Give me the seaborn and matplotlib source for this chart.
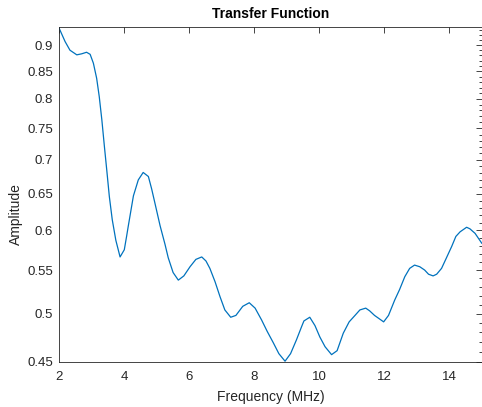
import matplotlib
matplotlib.use("Agg")
import matplotlib.pyplot as plt
from matplotlib.ticker import FixedLocator, MultipleLocator, NullFormatter
import numpy as np
import pandas as pd
import seaborn as sns

# values
freq_mhz = [2.00, 2.19, 2.34, 2.55, 2.70, 2.85, 2.96, 3.06, 3.16, 3.24,
            3.32, 3.40, 3.47, 3.55, 3.64, 3.75, 3.88, 4.01, 4.08, 4.13,
            4.29, 4.44, 4.59, 4.75, 4.85, 4.95, 5.11, 5.26, 5.36, 5.51,
            5.67, 5.84, 6.03, 6.21, 6.39, 6.52, 6.64, 6.80, 6.95, 7.10,
            7.28, 7.44, 7.65, 7.85, 8.03, 8.23, 8.40, 8.59, 8.76, 8.95,
            9.12, 9.30, 9.46, 9.53, 9.71, 9.87, 10.02, 10.18, 10.38, 10.55,
            10.74, 10.92, 11.10, 11.25, 11.43, 11.55, 11.70, 11.86, 11.98, 12.13,
            12.32, 12.47, 12.63, 12.78, 12.93, 13.09, 13.24, 13.36, 13.50, 13.61,
            13.76, 13.90, 14.07, 14.20, 14.33, 14.53, 14.63, 14.79, 15.00]
amplitude = [0.935, 0.907, 0.890, 0.881, 0.883, 0.886, 0.882, 0.865, 0.837, 0.804,
             0.764, 0.720, 0.685, 0.646, 0.614, 0.587, 0.566, 0.575, 0.592, 0.605,
             0.647, 0.670, 0.681, 0.675, 0.657, 0.637, 0.606, 0.582, 0.565, 0.547,
             0.538, 0.543, 0.554, 0.563, 0.566, 0.561, 0.552, 0.536, 0.519, 0.504,
             0.496, 0.498, 0.508, 0.512, 0.506, 0.493, 0.481, 0.469, 0.458, 0.4505,
             0.458, 0.472, 0.486, 0.492, 0.496, 0.487, 0.475, 0.465, 0.457, 0.461,
             0.479, 0.491, 0.498, 0.504, 0.506, 0.503, 0.498, 0.494, 0.491, 0.498,
             0.515, 0.527, 0.542, 0.552, 0.556, 0.554, 0.550, 0.545, 0.543, 0.545,
             0.552, 0.564, 0.579, 0.592, 0.598, 0.604, 0.602, 0.596, 0.583]

x_ticks = [2, 4, 6, 8, 10, 12, 14]
y_ticks = [0.45, 0.5, 0.55, 0.6, 0.65, 0.7, 0.75, 0.8, 0.85, 0.9]
y_tick_labels = ["0.45", "0.5", "0.55", "0.6", "0.65", "0.7", "0.75", "0.8", "0.85", "0.9"]

sns.set_style("white")
plt.rcParams['font.family'] = ['Liberation Sans', 'DejaVu Sans']

axis_col = '#262626'
df = pd.DataFrame({"Frequency": freq_mhz, "Amplitude": amplitude})

fig = plt.figure(figsize=(4.82, 4.07), dpi=100)
ax = fig.add_axes([58.9 / 482, 45.3 / 407, 423 / 482, 335 / 407])

sns.lineplot(data=df, x="Frequency", y="Amplitude", ax=ax, color='#0072BD', linewidth=0.9)

ax.set_yscale('log')
ax.set_xlim(2, 15)
ax.set_ylim(0.45, 0.937)

ax.xaxis.set_major_locator(FixedLocator(x_ticks))
ax.set_xticklabels([str(t) for t in x_ticks])
ax.yaxis.set_major_locator(FixedLocator(y_ticks))
ax.yaxis.set_minor_locator(MultipleLocator(0.01))
ax.yaxis.set_minor_formatter(NullFormatter())
ax.set_yticklabels(y_tick_labels)

ax.tick_params(axis='both', which='both', direction='in', top=True, right=True,
               colors=axis_col, labelsize=9.5, width=0.6)
ax.tick_params(axis='both', which='major', length=4.5)
ax.tick_params(axis='x', which='major', pad=7)
ax.tick_params(axis='y', which='major', pad=4)
ax.tick_params(axis='y', which='minor', length=2.2)
ax.tick_params(axis='x', which='minor', bottom=False, top=False)

for s in ax.spines.values():
    s.set_visible(True)
    s.set_color(axis_col)
    s.set_linewidth(0.6)

ax.set_title("Transfer Function", fontsize=10, fontweight='bold', color='black', pad=6)
ax.set_xlabel("Frequency (MHz)", fontsize=10, color=axis_col, labelpad=5)
ax.set_ylabel("Amplitude", fontsize=10, color=axis_col)
ax.yaxis.set_label_coords(-0.085, 0.44)

fig.savefig("out.png", dpi=100)
